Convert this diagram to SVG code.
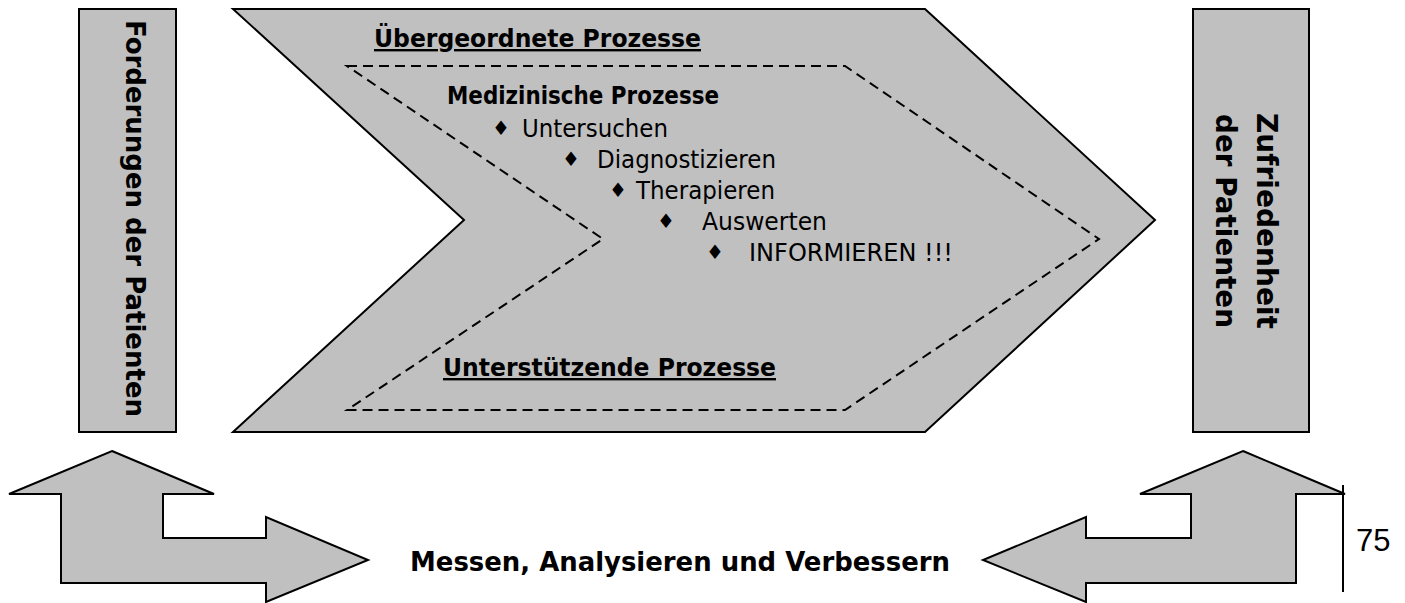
<svg xmlns="http://www.w3.org/2000/svg" width="1405" height="603" viewBox="0 0 1405 603">
  <style>
    .shape { fill: #c0c0c0; stroke: #000; stroke-width: 2; stroke-linejoin: miter; }
    .dash { fill: none; stroke: #000; stroke-width: 2; stroke-dasharray: 10 6; }
    .bold { font-family: "DejaVu Sans", Verdana, sans-serif; font-weight: bold; fill: #000; }
    .reg { font-family: "DejaVu Sans", Verdana, sans-serif; font-size: 25px; fill: #000; }
    .bul { font-size: 20px; }
    .ul { text-decoration: underline; }
    .num { font-family: "Liberation Sans", Arial, sans-serif; font-size: 31px; fill: #000; }
  </style>

  <g id="forderungen">
    <rect class="shape" x="79" y="9" width="97" height="423"/>
    <text class="bold" font-size="27" text-anchor="middle" textLength="397" lengthAdjust="spacingAndGlyphs" transform="translate(126,218.5) rotate(90)">Forderungen der Patienten</text>
  </g>

  <g id="prozesse">
    <polygon class="shape" points="233,9 925,9 1155,220 925,432 233,432 464,220"/>
    <text class="bold ul" font-size="24" x="374" y="47" textLength="327" lengthAdjust="spacingAndGlyphs">Übergeordnete Prozesse</text>
    <text class="bold ul" font-size="24" x="443" y="376" textLength="333" lengthAdjust="spacingAndGlyphs">Unterstützende Prozesse</text>
  </g>

  <g id="medizinische">
    <polygon class="dash" points="347,66 845,66 1099,239 845,410 347,410 603,239"/>
    <text class="bold" font-size="24" x="447" y="104" textLength="272" lengthAdjust="spacingAndGlyphs">Medizinische Prozesse</text>
    <text class="reg" y="137"><tspan class="bul" x="492" dy="-2.5">♦</tspan><tspan x="522" dy="2.5" textLength="146" lengthAdjust="spacingAndGlyphs">Untersuchen</tspan></text>
    <text class="reg" y="168"><tspan class="bul" x="562" dy="-2.5">♦</tspan><tspan x="597" dy="2.5" textLength="179" lengthAdjust="spacingAndGlyphs">Diagnostizieren</tspan></text>
    <text class="reg" y="199"><tspan class="bul" x="609" dy="-2.5">♦</tspan><tspan x="636" dy="2.5" textLength="139" lengthAdjust="spacingAndGlyphs">Therapieren</tspan></text>
    <text class="reg" y="230"><tspan class="bul" x="657" dy="-2.5">♦</tspan><tspan x="702" dy="2.5" textLength="125" lengthAdjust="spacingAndGlyphs">Auswerten</tspan></text>
    <text class="reg" y="261"><tspan class="bul" x="706" dy="-2.5">♦</tspan><tspan x="749" dy="2.5" textLength="204" lengthAdjust="spacingAndGlyphs">INFORMIEREN !!!</tspan></text>
  </g>

  <g id="zufriedenheit">
    <rect class="shape" x="1193" y="9" width="116" height="423"/>
    <text class="bold" font-size="28" text-anchor="middle" textLength="216" lengthAdjust="spacingAndGlyphs" transform="translate(1257,221) rotate(90)">Zufriedenheit</text>
    <text class="bold" font-size="28" text-anchor="middle" textLength="214" lengthAdjust="spacingAndGlyphs" transform="translate(1216,221) rotate(90)">der Patienten</text>
  </g>

  <g id="connectors">
    <polygon id="arrow-left" class="shape" points="112,451 214,494 163,494 163,538 266,538 266,517 368,560 266,602 266,583 61,583 61,494 9,494"/>
    <polygon id="arrow-right" class="shape" points="1243,451 1345,494 1296,494 1296,583 1086,583 1086,602 983,560 1086,517 1086,538 1191,538 1191,494 1140,494"/>
  </g>

  <g id="messen">
    <text class="bold" font-size="27" x="410" y="571" textLength="540" lengthAdjust="spacingAndGlyphs">Messen, Analysieren und Verbessern</text>
  </g>

  <g id="mass-75">
    <line x1="1343" y1="485" x2="1343" y2="592" stroke="#000" stroke-width="2"/>
    <text class="num" x="1356" y="551">75</text>
  </g>
</svg>
